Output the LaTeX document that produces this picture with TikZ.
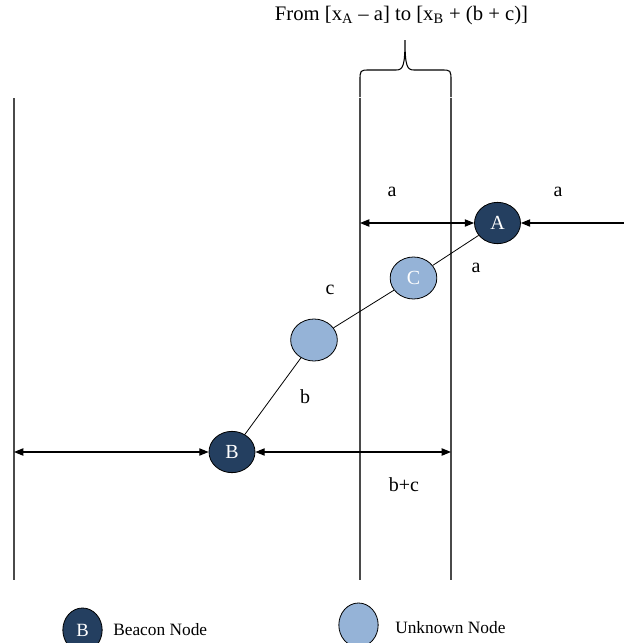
\documentclass[tikz,border=0pt]{standalone}
\usepackage{fontspec}
\setmainfont{Liberation Serif}
\usetikzlibrary{shapes.geometric,arrows.meta}
\definecolor{beacon}{HTML}{243F60}
\definecolor{unknown}{HTML}{95B3D7}
\definecolor{vline}{HTML}{4A4A4A}
\begin{document}
\begin{tikzpicture}[x=0.75pt,y=-0.75pt,
  font=\fontsize{15}{17}\selectfont,
  beaconnode/.style={ellipse,draw=black,line width=0.6pt,fill=beacon,text=white,minimum width=34.5pt,minimum height=31pt,inner sep=0pt},
  unknownnode/.style={ellipse,draw=black,line width=0.6pt,fill=unknown,text=white,minimum width=35pt,minimum height=31.5pt,inner sep=0pt},
  border/.style={draw=vline,line width=1pt},
  link/.style={draw=black,line width=0.6pt},
  dim/.style={draw=black,line width=0.8pt,{Triangle[length=7pt,width=5.5pt]}-{Triangle[length=7pt,width=5.5pt]}},
  dimone/.style={draw=black,line width=0.8pt,-{Triangle[length=7pt,width=5.5pt]}},
  lbl/.style={inner sep=0pt},
  legendtext/.style={inner sep=0pt,anchor=west,font=\fontsize{13}{15}\selectfont}
]
\useasboundingbox (0,0) rectangle (624,643);

% vertical boundary lines
\coordinate (L1t) at (14,98);  \coordinate (L1b) at (14,580);
\coordinate (L2t) at (360,98); \coordinate (L2b) at (360,580);
\coordinate (L3t) at (451,98); \coordinate (L3b) at (451,580);
\draw[border] (L1t) -- (L1b);
\draw[border] (L2t) -- (L2b);
\draw[border] (L3t) -- (L3b);

% brace
\draw[black,line width=0.8pt] (360,97) -- (360,81) .. controls (360,70) .. (370,70) -- (396,70)
  .. controls (403,70) and (405,66) .. (405,40)
  .. controls (405,66) and (407,70) .. (414,70) -- (441,70)
  .. controls (451,70) .. (451,81) -- (451,97);
\node[lbl,font=\fontsize{15.5}{18}\selectfont] (title) at (401.5,16) {From [x\textsubscript{A} – a] to [x\textsubscript{B} + (b + c)]};

% nodes
\node[beaconnode] (A) at (497.5,223) {A};
\node[unknownnode] (C) at (413.5,278) {C};
\node[unknownnode] (M) at (314,340) {};
\node[beaconnode] (B) at (232,452) {B};

\draw[link] (A) -- (C);
\draw[link] (C) -- (M);
\draw[link] (M) -- (B);

% dimension arrows
\coordinate (pa) at (360,223);
\coordinate (pr) at (624,223);
\coordinate (pl) at (14,452);
\coordinate (pb) at (451,452);
\draw[dim] (pa) -- (A.west);
\draw[dimone] (pr) -- (A.east);
\draw[dim] (pl) -- (B.west);
\draw[dim] (B.east) -- (pb);

% labels
\node[lbl] (la1) at (392,192) {a};
\node[lbl] (la2) at (558,192) {a};
\node[lbl] (la3) at (476,268) {a};
\node[lbl] (lc) at (330,290) {c};
\node[lbl] (lb) at (305,397) {b};
\node[lbl] (lbc) at (404,485) {b+c};

% legend
\node[beaconnode,minimum width=29.5pt,minimum height=33pt,font=\fontsize{14}{16}\selectfont] (LB) at (82.5,630) {B};
\node[legendtext] (LBt) at (113,630) {Beacon Node};
\node[unknownnode,minimum width=29.5pt,minimum height=33pt] (LU) at (358.5,625) {};
\node[legendtext] (LUt) at (395,628) {Unknown Node};
\end{tikzpicture}
\end{document}
